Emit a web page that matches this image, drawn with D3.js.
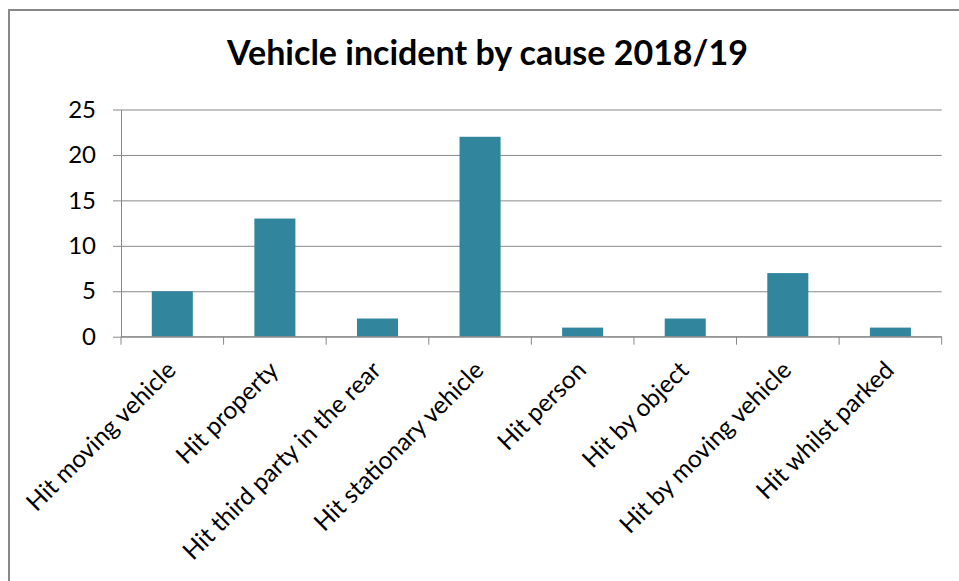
<!DOCTYPE html>
<html>
<head>
<meta charset="utf-8">
<script src="https://cdn.jsdelivr.net/npm/d3@7"></script>
<style>
  html, body { margin: 0; padding: 0; background: #fff; }
  svg { display: block; }
  text { font-family: Lato, "Open Sans", sans-serif; fill: #000; }
</style>
</head>
<body>
<svg id="chart" width="959" height="581"></svg>
<script>
// Incident counts per cause
const categories = [
  "Hit moving vehicle",
  "Hit property",
  "Hit third party in the rear",
  "Hit stationary vehicle",
  "Hit person",
  "Hit by object",
  "Hit by moving vehicle",
  "Hit whilst parked"
];
const counts = [5, 13, 2, 22, 1, 2, 7, 1];
const yTicks = [0, 5, 10, 15, 20, 25];
const title = "Vehicle incident by cause 2018/19";

const svg = d3.select("#chart");

// Chart frame (runs off the right and bottom edges)
svg.append("rect")
  .attr("x", 9).attr("y", 10)
  .attr("width", 1000).attr("height", 700)
  .attr("fill", "#fff")
  .attr("stroke", "#888").attr("stroke-width", 2);

const plot = { left: 121, right: 941.7, top: 109.5, bottom: 336.7 };

const x = d3.scaleBand()
  .domain(categories)
  .range([plot.left, plot.right])
  .paddingInner(0.6)
  .paddingOuter(0.3);

const y = d3.scaleLinear()
  .domain([0, 25])
  .range([plot.bottom, plot.top]);

// Title
svg.append("text")
  .attr("x", 487.5).attr("y", 65)
  .attr("text-anchor", "middle")
  .style("font-size", "34px")
  .style("font-weight", "bold")
  .text(title);

// Horizontal gridlines with y axis labels
const yAxis = d3.axisLeft(y)
  .tickValues(yTicks)
  .tickSize(-(plot.right - plot.left))
  .tickSizeOuter(0)
  .tickPadding(0);

const gy = svg.append("g")
  .attr("transform", `translate(${plot.left},0)`)
  .call(yAxis);
gy.select(".domain").attr("stroke", "#888");
gy.selectAll(".tick line")
  .attr("x1", -8)
  .attr("stroke", "#888").attr("stroke-width", 1);
gy.selectAll(".tick text")
  .attr("x", -25)
  .style("font-size", "24px")
  .style("font-family", "Lato, sans-serif")
  .attr("fill", "#000");

// Bars
svg.append("g")
  .selectAll("rect")
  .data(counts)
  .join("rect")
  .attr("x", (d, i) => x(categories[i]))
  .attr("y", d => y(d))
  .attr("width", x.bandwidth())
  .attr("height", d => y(0) - y(d))
  .attr("fill", "#31859C");

// Category axis: baseline and boundary ticks
const step = x.step();
const bounds = d3.range(categories.length + 1).map(i => plot.left + i * step);
const gx = svg.append("g");
gx.append("line")
  .attr("x1", plot.left).attr("x2", plot.right)
  .attr("y1", plot.bottom).attr("y2", plot.bottom)
  .attr("stroke", "#888");
gx.selectAll("line.tk")
  .data(bounds)
  .join("line")
  .attr("class", "tk")
  .attr("x1", d => d).attr("x2", d => d)
  .attr("y1", plot.bottom).attr("y2", plot.bottom + 8)
  .attr("stroke", "#888");

// Rotated category labels
gx.selectAll("text")
  .data(categories)
  .join("text")
  .attr("text-anchor", "end")
  .attr("transform", d => `translate(${x(d) + x.bandwidth() / 2 + 5},${plot.bottom + 35}) rotate(-45)`)
  .style("font-size", "24.5px")
  .text(d => d);
</script>
</body>
</html>
